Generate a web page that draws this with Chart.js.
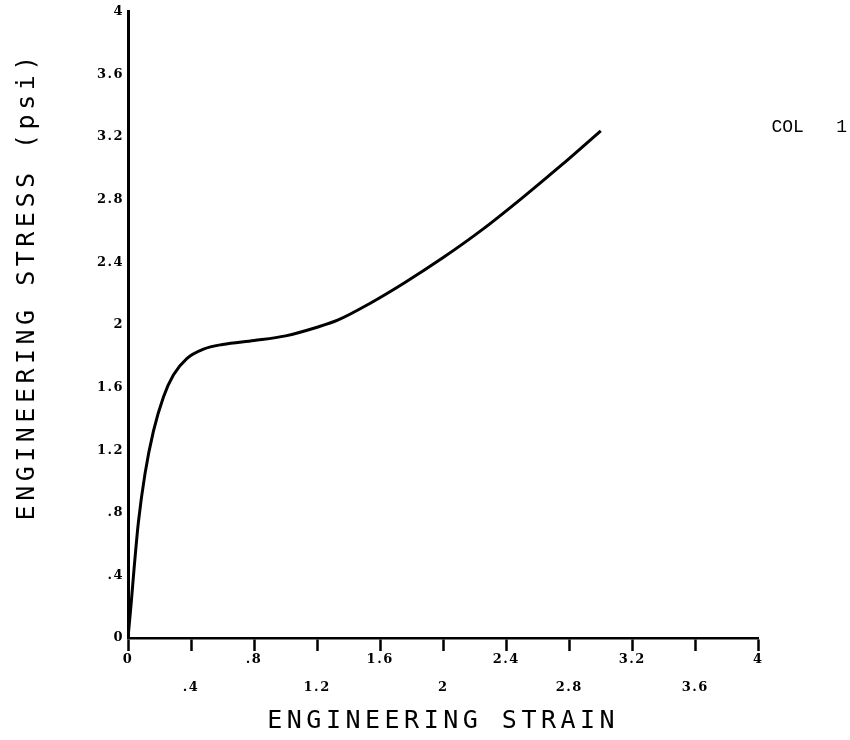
<!DOCTYPE html>
<html>
<head>
<meta charset="utf-8">
<script src="https://cdn.jsdelivr.net/npm/chart.js@4"></script>
<style>
  body { margin: 0; background: #fff; }
  canvas { display: block; }
</style>
</head>
<body>
<canvas id="grafico" width="850" height="740"></canvas>
<script>
// curva tensao x deformacao
const strain = [0, 0.02, 0.04, 0.066, 0.108, 0.161, 0.225, 0.288, 0.373, 0.479, 0.6, 0.8, 1.0, 1.2, 1.33, 1.54, 1.75, 2.0, 2.25, 2.5, 2.75, 3.0];
const stress = [0, 0.22, 0.46, 0.74, 1.05, 1.32, 1.54, 1.68, 1.785, 1.845, 1.875, 1.9, 1.93, 1.985, 2.03, 2.14, 2.266, 2.43, 2.61, 2.81, 3.02, 3.24];

const xTickValues = [0, 0.4, 0.8, 1.2, 1.6, 2, 2.4, 2.8, 3.2, 3.6, 4];
const xTickLabels = ['0', '.4', '.8', '1.2', '1.6', '2', '2.4', '2.8', '3.2', '3.6', '4'];
const yTickValues = [0, 0.4, 0.8, 1.2, 1.6, 2, 2.4, 2.8, 3.2, 3.6, 4];
const yTickLabels = ['0', '.4', '.8', '1.2', '1.6', '2', '2.4', '2.8', '3.2', '3.6', '4'];

const seriesName = 'COL   1';
const xTitle = 'ENGINEERING STRAIN';
const yTitle = '    ENGINEERING STRESS (psi)';

const pontos = strain.map((v, i) => ({ x: v, y: stress[i] }));

const tituloFont = { family: "'DejaVu Sans Mono', monospace", size: 25, lineHeight: 1.2 };
const tickFont = { family: "'DejaVu Serif', serif", size: 13, weight: 'bold', lineHeight: '28px' };

// espacamento entre letras (titulos largos, numeros menos, legenda sem)
const espacamento = {
  id: 'espacamento',
  beforeDraw(chart) {
    const leg = chart.legend;
    if (leg && !leg._semEspaco) {
      const desenha = leg.draw;
      leg.draw = function () {
        const antes = this.ctx.letterSpacing;
        this.ctx.letterSpacing = '0px';
        desenha.apply(this, arguments);
        this.ctx.letterSpacing = antes;
      };
      leg._semEspaco = true;
    }
    chart.ctx.letterSpacing = '4.5px';
  },
  beforeDatasetsDraw(chart) { chart.ctx.letterSpacing = '1.5px'; },
  afterDraw(chart) { chart.ctx.letterSpacing = '0px'; }
};

new Chart(document.getElementById('grafico').getContext('2d'), {
  type: 'line',
  data: {
    datasets: [{
      label: seriesName,
      data: pontos,
      borderColor: '#000',
      backgroundColor: '#000',
      borderWidth: 3,
      pointRadius: 0,
      fill: false,
      cubicInterpolationMode: 'monotone'
    }]
  },
  options: {
    responsive: false,
    animation: false,
    layout: { padding: { top: 8, right: -7, bottom: 0, left: 0 } },
    plugins: {
      tooltip: { enabled: false },
      legend: {
        position: 'right',
        align: 'start',
        title: { display: true, text: '', padding: { top: 92, bottom: 0 } },
        labels: {
          boxWidth: 0,
          padding: 4,
          color: '#000',
          font: { family: "'Liberation Mono', monospace", size: 18 }
        }
      }
    },
    scales: {
      x: {
        type: 'linear',
        position: 'bottom',
        min: 0,
        max: 4,
        afterBuildTicks: s => { s.ticks = xTickValues.map(v => ({ value: v })); },
        afterFit: s => { s.height = 102; },
        grid: { drawOnChartArea: false, drawTicks: true, tickLength: 13, tickWidth: 2.5, tickColor: '#000', color: '#000' },
        border: { display: true, color: '#000', width: 2.5 },
        ticks: {
          z: 1,
          autoSkip: false,
          maxRotation: 0,
          padding: -5,
          color: '#000',
          font: tickFont,
          callback: (v, i) => i % 2 ? ['', xTickLabels[i]] : xTickLabels[i]
        },
        title: { display: true, text: xTitle, color: '#000', font: tituloFont, padding: { top: 0, bottom: 4 } }
      },
      y: {
        type: 'linear',
        min: 0,
        max: 4,
        afterBuildTicks: s => { s.ticks = yTickValues.map(v => ({ value: v })); },
        afterFit: s => { s.width = 128; },
        grid: { drawOnChartArea: false, drawTicks: false },
        border: { display: true, color: '#000', width: 3 },
        ticks: {
          z: 1,
          padding: 4,
          color: '#000',
          font: { family: "'DejaVu Serif', serif", size: 13, weight: 'bold' },
          callback: (v, i) => yTickLabels[i]
        },
        title: { display: true, text: yTitle, color: '#000', font: tituloFont, padding: { top: 12, bottom: 0 } }
      }
    }
  },
  plugins: [espacamento]
});
</script>
</body>
</html>
